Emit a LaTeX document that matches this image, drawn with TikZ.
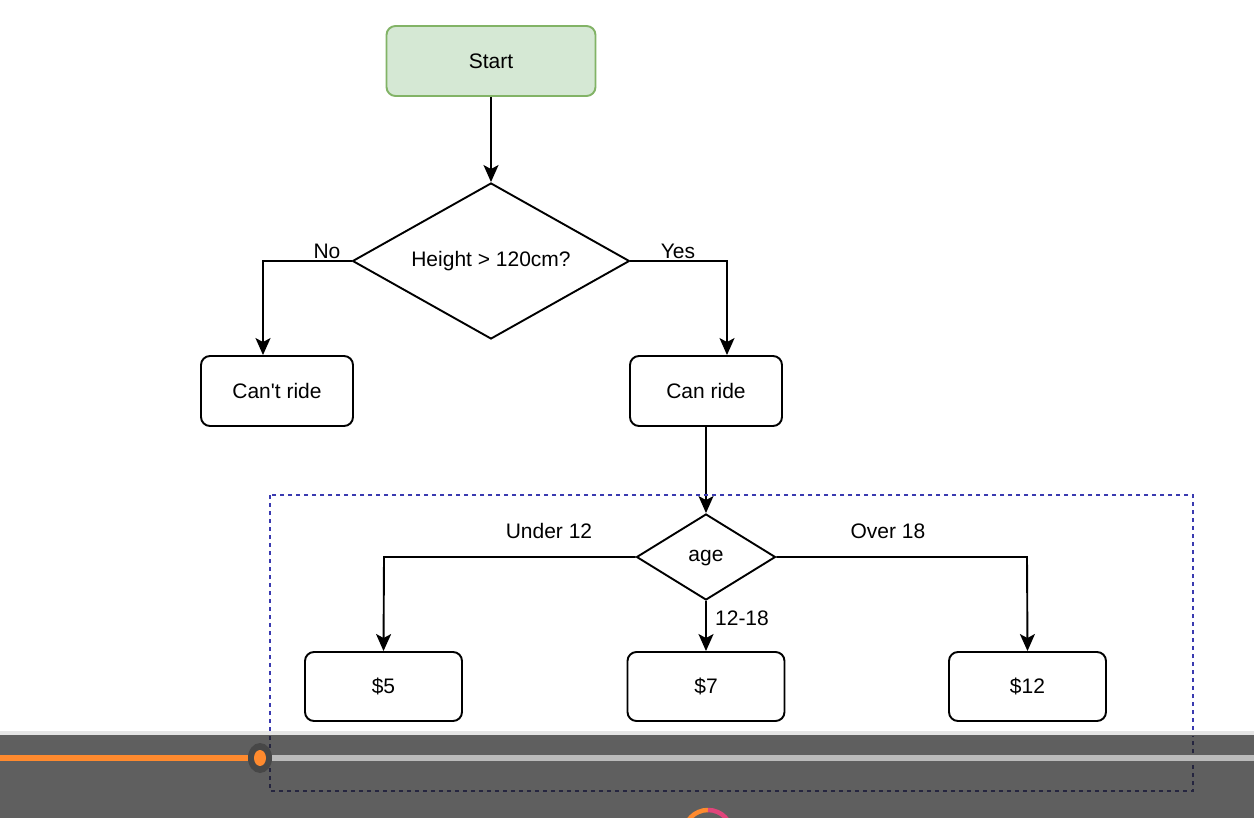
\documentclass[tikz,border=0pt]{standalone}
\usepackage{fontspec}
\setmainfont{Liberation Sans}
\usetikzlibrary{shapes.geometric,arrows.meta}
\definecolor{startfill}{HTML}{D5E8D4}
\definecolor{startdraw}{HTML}{82B366}
\definecolor{boxblue}{HTML}{3A3AB0}
\definecolor{boxdark}{HTML}{25253F}
\definecolor{bargray}{HTML}{5F5F5F}
\definecolor{barlight}{HTML}{BBBBBB}
\definecolor{barorange}{HTML}{FF8A2E}
\definecolor{barpink}{HTML}{E0457B}
\begin{document}
\begin{tikzpicture}[x=1pt,y=-1pt,
  every node/.style={font=\fontsize{21}{25}\selectfont},
  box/.style={draw, line width=1.9pt, rounded corners=9pt, minimum width=152pt, minimum height=70pt, inner sep=0pt},
  pricebox/.style={box, minimum width=157pt, minimum height=69pt},
  startbox/.style={box, fill=startfill, draw=startdraw, minimum width=209pt, minimum height=70pt},
  decision/.style={draw, diamond, line width=1.9pt, inner sep=0pt},
  conn/.style={line width=1.9pt, -{Stealth[length=17pt,width=15pt,inset=4pt]}},
  lbl/.style={inner sep=1pt}
]
\useasboundingbox (0,0) rectangle (1254,818);
\fill[white] (0,0) rectangle (1254,818);

% nodes
\node[startbox] (start) at (491,61) {Start};
\node[decision, minimum width=277pt, minimum height=156pt] (height) at (491,261) {};
\node at (height) {Height > 120cm?};
\node[box] (cant) at (277,391) {Can\textquotesingle t ride};
\node[box] (can) at (706,391) {Can ride};
\node[decision, minimum width=139pt, minimum height=86pt] (age) at (706,557) {};
\node at ([yshift=-1pt]age.center) {age};
\node[pricebox] (p5) at (383.5,686.5) {\$5};
\node[pricebox] (p7) at (706,686.5) {\$7};
\node[pricebox] (p12) at (1027.5,686.5) {\$12};

\coordinate (noc) at (263,261);
\coordinate (yesc) at (727,261);
\coordinate (u12c) at (384,557);
\coordinate (o18c) at (1027,557);

% connectors
\draw[conn] (start.south) -- (height.north);
\draw[conn] (height.west) -- (noc) -- (noc |- cant.north);
\draw[conn] (height.east) -- (yesc) -- (yesc |- can.north);
\draw[conn] (can.south) -- (age.north);
\draw[conn] (age.west) -- (u12c) -- (p5.north);
\draw[conn] (age.east) -- (o18c) -- (p12.north);
\draw[conn] (age.south) -- (p7.north);

% labels
\node[lbl] (lno) at (327,251) {No};
\node[lbl] (lyes) at (678,251) {Yes};
\node[lbl] (lu12) at (549,531) {Under 12};
\node[lbl] (lo18) at (888,531) {Over 18};
\node[lbl] (l1218) at (742,618) {12-18};

% dashed group box
\draw[boxblue, line width=1.6pt, dash pattern=on 4pt off 4pt] (270,495) rectangle (1193,791);

% video player bar
\fill[bargray] (0,733) rectangle (1254,818);
\fill[white!90!black] (0,731) rectangle (1254,735);
\draw[boxdark, line width=1.6pt, dash pattern=on 4pt off 4pt] (270,736) -- (270,791) -- (1193,791) -- (1193,736);
\fill[barlight] (260,755) rectangle (1254,761);
\fill[barorange] (0,755) rectangle (260,761);
\fill[black!72] (260,758) ellipse (12pt and 15pt);
\fill[barorange] (260,758) ellipse (6pt and 8pt);
\draw[barorange, line width=4.5pt] (684,834) arc (180:90:24pt);
\draw[barpink, line width=4.5pt] (708,810) arc (90:0:24pt);
\end{tikzpicture}
\end{document}
